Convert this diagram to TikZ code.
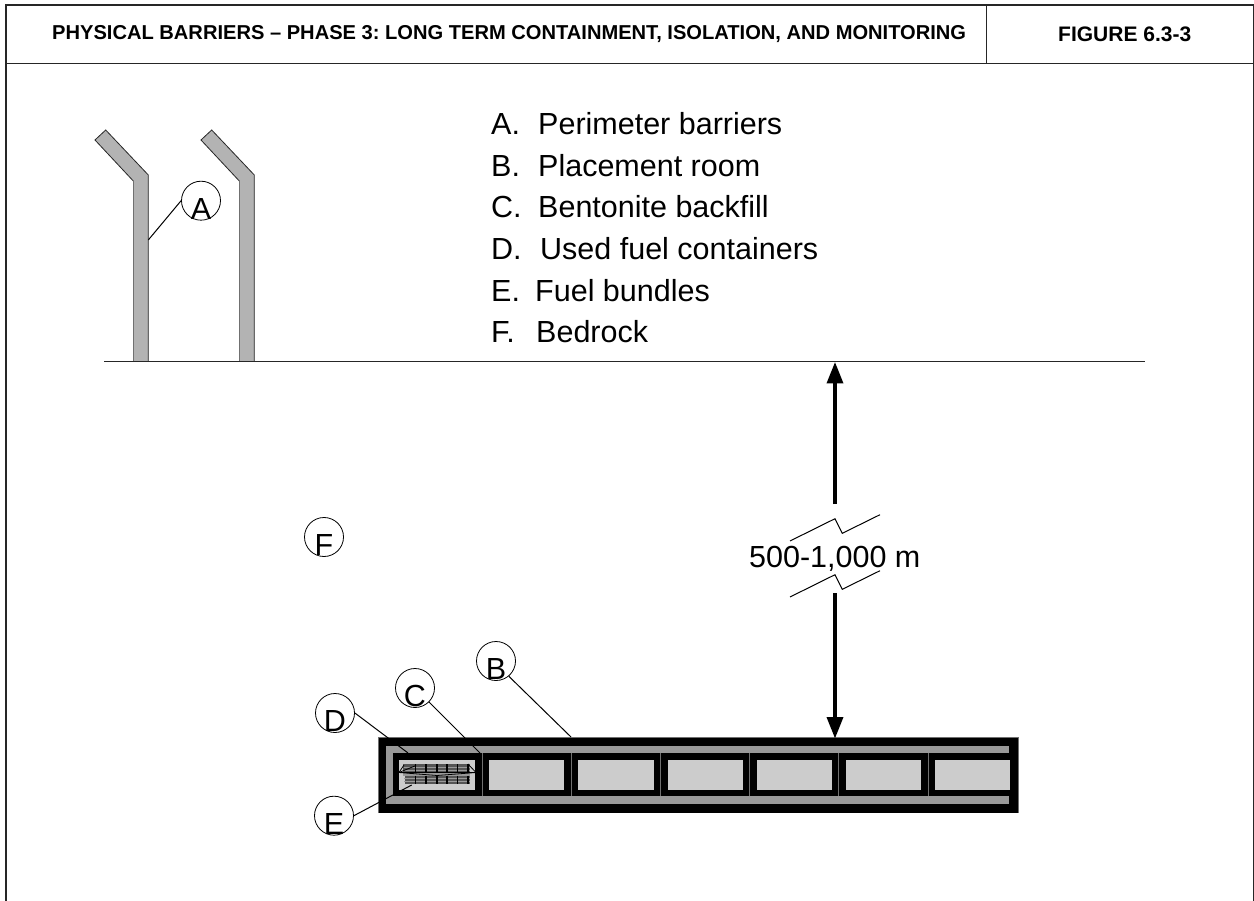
\documentclass[tikz,border=0pt]{standalone}
\usepackage{fontspec}
\setmainfont{Liberation Sans}
\usetikzlibrary{arrows.meta}
\definecolor{band}{HTML}{999999}
\definecolor{roomfill}{HTML}{CCCCCC}
\definecolor{fence}{HTML}{B3B3B3}
\definecolor{seam}{HTML}{707070}
\definecolor{bundle}{HTML}{555555}
\tikzset{
  x=1pt,y=-1pt,
  frameline/.style={line width=1.3pt,draw=black!85},
  headtext/.style={font=\frenchspacing\bfseries\fontsize{20.11}{22}\selectfont,inner sep=0pt,anchor=base west},
  figtext/.style={font=\bfseries\fontsize{21}{22}\selectfont,inner sep=0pt,anchor=base west},
  legend/.style={font=\fontsize{30.5}{32}\selectfont,inner sep=0pt,anchor=base west},
  callout/.style={circle,draw=black,line width=0.8pt,minimum size=39pt,inner sep=0pt},
  letter/.style={font=\fontsize{30.5}{32}\selectfont,inner sep=0pt,yshift=-8pt},
  leader/.style={line width=1pt,draw=black},
  fencebody/.style={fill=fence,draw=none},
  dimarrow/.style={line width=4.8pt,draw=black,-{Triangle[length=22pt,width=15.5pt,inset=0pt]}},
  breakline/.style={line width=1pt,draw=black},
  lightroom/.style={fill=roomfill},
  divider/.style={line width=0.8pt,draw=seam},
}
\begin{document}
\begin{tikzpicture}
\useasboundingbox (0,0) rectangle (1254,901);
\fill[white] (0,0) rectangle (1254,901);
% frame
\draw[frameline] (6,901) -- (6,5) -- (1253.4,5) -- (1253.4,901);
\draw[frameline] (6,63.5) -- (1253.4,63.5);
\draw[frameline] (986.7,5) -- (986.7,63.5);
\node[headtext] (title) at (52,39.3) {PHYSICAL BARRIERS – PHASE 3: LONG TERM CONTAINMENT, ISOLATION, AND MONITORING};
\node[figtext] (fignum) at (1058,41.5) {FIGURE 6.3-3};
% fences
\foreach \dx in {0,106}{
  \begin{scope}[xshift=\dx pt]
  \path[fencebody] (95,140) -- (105.7,130) -- (148.3,175) -- (148.3,362) -- (133.3,362) -- (133.3,181) -- cycle;
  \draw[line width=0.8pt,draw=black!85] (133.3,181) -- (95,140) -- (105.7,130) -- (148.3,175) -- (148.3,362);
  \draw[line width=0.7pt,draw=seam] (133.3,181) -- (133.3,362);
  \end{scope}
}
% ground
\coordinate (g1) at (104,361.7);
\coordinate (g2) at (1145,361.7);
\draw[line width=1.2pt,draw=black!85] (g1) -- (g2);
% legend
\node[legend] (la) at (491,134.5) {A.};\node[legend] (lat) at (538,134.5) {Perimeter barriers};
\node[legend] (lb) at (491,176.5) {B.};\node[legend] (lbt) at (538,176.5) {Placement room};
\node[legend] (lc) at (491,218) {C.};\node[legend] (lct) at (538,218) {Bentonite backfill};
\node[legend] (ld) at (491,259.5) {D.};\node[legend] (ldt) at (540,259.5) {Used fuel containers};
\node[legend] (le) at (491,301.5) {E.};\node[legend] (let) at (535,301.5) {Fuel bundles};
\node[legend] (lf) at (491,342.5) {F.};\node[legend] (lft) at (536,342.5) {Bedrock};
% placement room
\fill[black] (378,737) rectangle (1018,813);
\draw[line width=0.6pt,draw=seam] (378,813) -- (378,737) -- (1018,737) -- (1018,813);
\fill[band] (386,746) rectangle (1009,753);
\fill[band] (386,796) rectangle (1009,804);
\fill[band] (386,753) rectangle (393,796);
\foreach \a/\b in {399/475,489.3/564.3,578.3/653.7,667.7/742.7,756.7/832,846/921,935/1010}{
  \fill[lightroom] (\a,760) rectangle (\b,789.5);
}
\foreach \x in {482,571.3,660.7,749.7,838.7,928}{
  \draw[divider] (\x,753) -- (\x,796);
}
% fuel bundles
\fill[bundle] (403,764.2) rectangle (470,773);
\fill[bundle] (405,775.5) rectangle (470,784.3);
\fill[band] (403,773) rectangle (470,775.5);
\foreach \y in {767.3,770.3,778.3,781.3}{
  \draw[line width=0.5pt,draw=band] (404,\y) -- (470,\y);
}
\foreach \x in {415.5,426,437,447,457.5,468}{
  \draw[line width=1.4pt,draw=black] (\x,764.2) -- (\x,773);
  \draw[line width=1.4pt,draw=black] (\x,775.5) -- (\x,784.3);
}
\draw[line width=0.8pt,draw=black] (399,772.5) -- (416,765.5);
\draw[line width=0.8pt,draw=black] (399,772.5) -- (404,765);
\draw[line width=0.8pt,draw=black] (399,772.5) -- (476,772.5);
\draw[line width=0.8pt,draw=black] (399,772.5) -- (437,775.5) -- (476,772.5);
\draw[line width=0.8pt,draw=black] (468,764) -- (476,772.5);
% callouts
\node[callout,label={[letter]center:A}] (cA) at (201,200.7) {};
\node[callout,label={[letter]center:B}] (cB) at (496,661) {};
\node[callout,label={[letter]center:C}] (cC) at (415,688) {};
\node[callout,label={[letter]center:D}] (cD) at (335,713) {};
\node[callout,label={[letter]center:E}] (cE) at (334,815.7) {};
\node[callout,label={[letter]center:F}] (cF) at (324,537) {};
\coordinate (eA) at (148.3,240);
\coordinate (eB) at (571,737);
\coordinate (eC) at (480,753);
\coordinate (eD) at (408,753);
\coordinate (eE) at (411.7,785);
\draw[leader] (cA.west) -- (eA);
\draw[leader] (cB.-50) -- (eB);
\draw[leader] (cC.-45) -- (eC);
\draw[leader] (cD.east) -- (eD);
\draw[leader] (cE.east) -- (eE);
% dimension
\coordinate (a1) at (835,504);
\coordinate (a2) at (835,361.5);
\coordinate (b1) at (835,593.3);
\coordinate (b2) at (835,739);
\draw[dimarrow] (a1) -- (a2);
\draw[dimarrow] (b1) -- (b2);
\draw[breakline] (790,541) -- (835,518.7) -- (842.3,533.3) -- (880,514.7);
\node[font=\fontsize{30.5}{32}\selectfont,inner sep=0pt,anchor=base west] (dim) at (749,567.7) {500-1,000 m};
\draw[breakline] (790,597) -- (835,574.7) -- (842.3,589.3) -- (880,570.7);
\end{tikzpicture}
\end{document}
